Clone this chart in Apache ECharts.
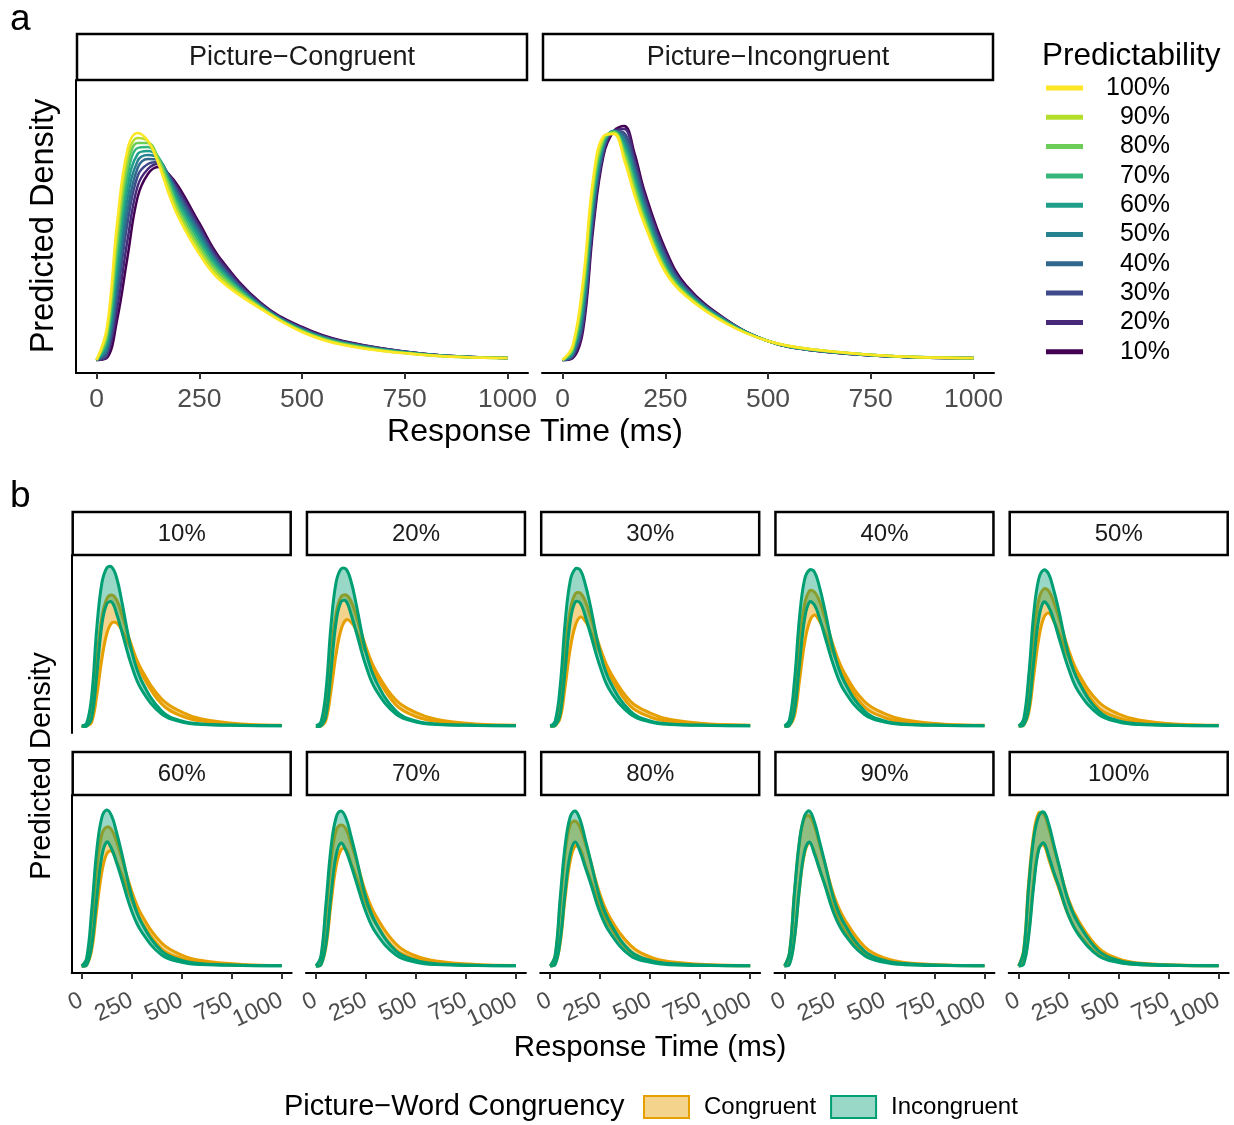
<!DOCTYPE html>
<html><head><meta charset="utf-8">
<script src="https://cdn.jsdelivr.net/npm/echarts@6/dist/echarts.min.js"></script>
<style>html,body{margin:0;padding:0;background:#fff}#c{width:1234px;height:1125px}</style>
</head><body><div id="c"></div>
<script>
// ---------------- DATA ----------------
const levels = ['10%','20%','30%','40%','50%','60%','70%','80%','90%','100%'];
const xs = [0,25,50,75,100,125,150,175,200,250,300,400,500,600,800,1000];
const xTicks = [0,250,500,750,1000];
const xTicksEven = [0,500,1000];
const xTicksOdd = [250,750];
const facetTitles = ['Picture\u2212Congruent','Picture\u2212Incongruent'];

// Panel a: predicted density (arbitrary units), rows = 10% .. 100%
const aCongruent = [
  [0,2,40,102,163,186,193,186,173,137,102,57,33,19,6,2],
  [0,4,51,119,174,191,196,186,170,134,100,56,32,18.5,6,2],
  [0,6,63,136,184,196,198,185,167,131,97,55,31.5,18,6,2],
  [0,9,73,148,192,201,200,184,164,128,95,55,31,17.5,6,2],
  [0,12,83,160,199,205,202,183,161,125,93,54,30.5,17,5.5,2],
  [0,16,93,172,206,209,203,181,158,122,91,53,30,17,5.5,2],
  [0,20,104,183,212,213,203,179,154,118,89,53,29.5,16.5,5.5,2],
  [0,24,115,193,217,217,202,176,150,114,86,52,29,16,5,2],
  [0,28,126,202,222,219,200,172,146,110,83,52,28.5,15.5,5,2],
  [0,32,137,210,227,219,197,167,142,106,80,51,28,15,5,2]
];
const aIncongruent = [
  [0,2,30,133,205,229,234,207,168,111,75,40,19,10,3.5,2],
  [0,3,35,139,208,229,231,202,164,108,73,39.5,19,10,3.5,2],
  [0,4,40,145,210,229,227,197,160,105,72,39,19,10,3.5,2],
  [0,5,45,150,213,229,224,192,156,102,71,39,19,10.5,3.5,2],
  [0,7,50,156,215,229,220,187,152,99,69,38.5,19,10.5,3.5,2],
  [0,8,56,161,217,229,216,183,148,96,68,38,19,10.5,4,2],
  [0,10,62,166,219,228,212,178,145,94,67,37.5,19,10.5,4,2],
  [0,11,68,172,221,228,208,174,141,92,66,37,19,11,4,2],
  [0,13,74,178,223,227,204,169,138,90,65,36.5,19,11,4,2],
  [0,15,80,183,224,226,200,165,135,88,64,36,19,11,4,2]
];

// Panel b: credible bands, rows = 10% .. 100%
const bIncUpper = [
  [0,3,30,97,142,158,159,148,125,75,45,15,5,2,0.7,0.3],
  [0,4,35,100,143,157,157,145,123,74,45,15,5,2,0.7,0.3],
  [0,5,40,104,145,157,156,142,121,73,44,15,5,2,0.7,0.3],
  [0,6,45,108,146,156,154,139,118,72,44,15,5,2.1,0.7,0.3],
  [0,7,50,112,147,156,152,136,116,71,44,15,5,2.2,0.7,0.3],
  [0,8,56,115,148,156,150,133,113,70,43,15,5.5,2.3,0.8,0.3],
  [0,10,62,118,148,155,148,130,110,68,43,15,5.5,2.3,0.8,0.3],
  [0,11,68,121,149,155,146,127,107,67,43,15,5.5,2.4,0.8,0.3],
  [0,13,74,125,150,155,144,125,105,65,42,15,5.5,2.5,0.8,0.3],
  [0,15,80,128,150,154,142,122,102,64,42,15,5.5,2.5,0.8,0.3]
];
const bIncLower = [
  [0,0,8,50,100,122,124,112,95,60,36,12,4,1.5,0.5,0.2],
  [0,0,10,54,103,124,125,112,95,60,36,12,4,1.5,0.5,0.2],
  [0,0.5,12,57,104,124,123,110,93,59,35,12,4,1.5,0.5,0.2],
  [0,0.5,15,61,106,124,121,108,91,58,35,11.5,4,1.5,0.5,0.2],
  [0,1,17,64,107,124,119,106,89,57,34,11.5,4,1.4,0.5,0.2],
  [0,1,20,67,109,124,117,103,87,55,34,11,3.8,1.4,0.5,0.2],
  [0,1,22,70,110,123,115,101,85,54,33,11,3.8,1.4,0.4,0.2],
  [0,1.5,25,74,112,124,114,99,84,53,33,10.5,3.7,1.3,0.4,0.2],
  [0,1.5,27,77,114,124,112,97,82,51,32,10.5,3.6,1.3,0.4,0.2],
  [0,2,30,80,116,123,110,94,80,50,31,10,3.5,1.3,0.4,0.2]
];
const bCongUpper = [
  [0,1,18,65,108,127,131,126,112,80,56,27,14,7,2,0.8],
  [0,2,22,71,112,129,131,125,111,79,55,26,13.5,6.8,2,0.8],
  [0,3,27,77,116,132,133,125,110,78,54,25,13,6.5,1.9,0.8],
  [0,4,33,84,121,135,134,125,110,77,53,24.5,12.5,6.2,1.8,0.7],
  [0,5,39,91,126,137,135,124,109,76,52,24,12,6,1.7,0.7],
  [0,7,46,98,131,139,136,124,108,75,51,23,11,5.5,1.6,0.6],
  [0,8,53,105,135,141,137,123,107,73,50,22,10,5,1.5,0.6],
  [0,10,62,114,141,145,138,123,106,71,48,21,9,4.3,1.3,0.5],
  [0,13,73,124,148,150,140,122,104,69,47,19.5,8,3.6,1.1,0.5],
  [0,16,84,132,153,152,138,119,101,66,45,18,7,3,1,0.4]
];
const bCongLower = [
  [0,0,4,30,66,92,103,103,96,75,52,22,10,5,1.6,0.6],
  [0,0,6,35,71,96,106,104,96,73,51,21,9.5,4.7,1.5,0.6],
  [0,0.5,8,40,77,100,109,105,96,72,50,20,9,4.4,1.4,0.5],
  [0,0.5,10,45,82,104,111,105,95,70,48,19,8.5,4.1,1.3,0.5],
  [0,1,13,50,87,108,113,105,94,68,46,18,8,3.8,1.2,0.5],
  [0,1,16,56,93,112,115,104,92,66,44,17,7.5,3.5,1.1,0.4],
  [0,1.5,19,62,99,116,117,103,90,63,42,16,7,3.1,1,0.4],
  [0,2,23,69,105,120,117,101,87,60,39,14,6,2.7,0.8,0.3],
  [0,2.5,28,77,112,123,114,97,83,56,36,12.5,5,2.2,0.7,0.3],
  [0,3,33,84,118,121,107,92,78,50,32,11,4,1.6,0.5,0.2]
];

// ---------------- STYLE ----------------
const FONT = '"Liberation Sans", Arial, Helvetica, sans-serif';
const viridis = ['#440154','#482878','#3E4A89','#31688E','#26828E','#1F9E89','#35B779','#6DCD59','#B4DE2C','#FDE725'];
const ORANGE = '#E69F00', GREEN = '#009E73';
const ORANGE_FILL = 'rgba(230,159,0,0.45)', GREEN_FILL = 'rgba(0,158,115,0.4)';
const TICK_COL = '#4D4D4D';
const SMOOTH = 0.4;

function pts(v){ return xs.map((x,j)=>[x, v[j]]); }

function bandRender(lower, upper, color, fill) {
  return function (params, api) {
    if (params.dataIndex !== 0) return;
    const up = xs.map((x,j)=>api.coord([x, upper[j]]));
    const lo = xs.map((x,j)=>api.coord([x, lower[j]]));
    const poly = up.concat(lo.slice().reverse());
    return {type:'group', children:[
      {type:'polygon', shape:{points:poly, smooth:SMOOTH}, style:{fill:fill, stroke:null}},
      {type:'polyline', shape:{points:lo, smooth:SMOOTH}, style:{stroke:color, lineWidth:3, fill:null}},
      {type:'polyline', shape:{points:up, smooth:SMOOTH}, style:{stroke:color, lineWidth:3, fill:null}}
    ]};
  };
}

const grids = [], xAxes = [], yAxes = [], series = [], graphics = [];
const fmt = v => String(v);

// Panel a grids
const aLefts = [76, 542];
aLefts.forEach((L, g) => {
  grids.push({left: L, top: 80, width: 452, height: 293});
  xAxes.push({type:'value', gridIndex:g, min:-50, max:1050, splitLine:{show:false},
    axisLine:{show:true, onZero:false, lineStyle:{color:'#000', width:2}},
    axisTick:{show:true, customValues:xTicks, length:6, lineStyle:{color:'#333', width:2}},
    axisLabel:{show:true, customValues:xTicks, formatter:fmt, color:TICK_COL, fontSize:26.5, fontFamily:FONT, margin:13, hideOverlap:false}});
  yAxes.push({type:'value', gridIndex:g, min:-13, max:280, splitLine:{show:false},
    axisLine:{show:g===0, onZero:false, lineStyle:{color:'#000', width:2}}, axisTick:{show:false}, axisLabel:{show:false}});
  graphics.push({type:'rect', shape:{x:L+1, y:34, width:450, height:46}, style:{fill:'#fff', stroke:'#000', lineWidth:2.5}});
  graphics.push({type:'text', x:L+226, y:58, style:{text:facetTitles[g], font:'27px '+FONT, fill:'#1A1A1A', textAlign:'center', textVerticalAlign:'middle'}});
});

// Panel b grids
const bLeft0 = 71.7, bStep = 234.25;
const extraAxes = [];
function bAxisLabel(vals) {
  return {show:true, customValues:vals, formatter:fmt, rotate:25, color:TICK_COL, fontSize:23.5, fontFamily:FONT, margin:26,
          hideOverlap:false, showMaxLabel:true, showMinLabel:true};
}
for (let i = 0; i < 10; i++) {
  const row = i < 5 ? 0 : 1, col = i % 5;
  const L = bLeft0 + bStep*col, T = row ? 795 : 555;
  const g = 2 + i;
  grids.push({left: L, top: T, width: 220, height: 178});
  if (row === 1) {
    xAxes.push({type:'value', gridIndex:g, min:-50, max:1050, position:'bottom', splitLine:{show:false},
      axisLine:{show:true, onZero:false, lineStyle:{color:'#000', width:2}},
      axisTick:{show:true, customValues:xTicksEven, length:6, lineStyle:{color:'#333', width:2}},
      axisLabel:bAxisLabel(xTicksEven)});
    extraAxes.push({type:'value', gridIndex:g, min:-50, max:1050, position:'bottom', offset:0, splitLine:{show:false},
      axisLine:{show:false, onZero:false},
      axisTick:{show:true, customValues:xTicksOdd, length:6, lineStyle:{color:'#333', width:2}},
      axisLabel:bAxisLabel(xTicksOdd)});
  } else {
    xAxes.push({type:'value', gridIndex:g, min:-50, max:1050, show:false, splitLine:{show:false},
      axisLine:{show:false, onZero:false}, axisTick:{show:false}, axisLabel:{show:false}});
  }
  yAxes.push({type:'value', gridIndex:g, min:-7, max:171, splitLine:{show:false},
    axisLine:{show:col===0, onZero:false, lineStyle:{color:'#000', width:2}}, axisTick:{show:false}, axisLabel:{show:false}});
  const sy = row ? 752 : 512;
  graphics.push({type:'rect', shape:{x:L+1, y:sy, width:218, height:43}, style:{fill:'#fff', stroke:'#000', lineWidth:2.5}});
  graphics.push({type:'text', x:L+110, y:sy+22, style:{text:levels[i], font:'24px '+FONT, fill:'#1A1A1A', textAlign:'center', textVerticalAlign:'middle'}});

  series.push({type:'custom', name:'Congruent', xAxisIndex:g, yAxisIndex:g, silent:true,
    encode:{x:0, y:[1,2]}, data:xs.map((x,j)=>[x, bCongLower[i][j], bCongUpper[i][j]]),
    renderItem:bandRender(bCongLower[i], bCongUpper[i], ORANGE, ORANGE_FILL)});
  series.push({type:'custom', name:'Incongruent', xAxisIndex:g, yAxisIndex:g, silent:true,
    encode:{x:0, y:[1,2]}, data:xs.map((x,j)=>[x, bIncLower[i][j], bIncUpper[i][j]]),
    renderItem:bandRender(bIncLower[i], bIncUpper[i], GREEN, GREEN_FILL)});
}
extraAxes.forEach(a => xAxes.push(a));

// Panel a series
levels.forEach((lv, k) => {
  series.push({type:'line', name:lv, xAxisIndex:0, yAxisIndex:0, data:pts(aCongruent[k]), smooth:SMOOTH, symbol:'none', silent:true, color:viridis[k], lineStyle:{color:viridis[k], width:2.5}});
  series.push({type:'line', name:lv, xAxisIndex:1, yAxisIndex:1, data:pts(aIncongruent[k]), smooth:SMOOTH, symbol:'none', silent:true, color:viridis[k], lineStyle:{color:viridis[k], width:2.5}});
});

// Titles / labels
graphics.push({type:'text', x:10, y:20, style:{text:'a', font:'37px '+FONT, fill:'#000', textVerticalAlign:'middle'}});
graphics.push({type:'text', x:10, y:497, style:{text:'b', font:'37px '+FONT, fill:'#000', textVerticalAlign:'middle'}});
graphics.push({type:'text', x:535, y:432, style:{text:'Response Time (ms)', font:'32px '+FONT, fill:'#000', textAlign:'center', textVerticalAlign:'middle'}});
graphics.push({type:'text', x:44, y:226, rotation:Math.PI/2, style:{text:'Predicted Density', font:'32.5px '+FONT, fill:'#000', textAlign:'center', textVerticalAlign:'middle'}});
graphics.push({type:'text', x:650, y:1048, style:{text:'Response Time (ms)', font:'29.5px '+FONT, fill:'#000', textAlign:'center', textVerticalAlign:'middle'}});
graphics.push({type:'text', x:42, y:766, rotation:Math.PI/2, style:{text:'Predicted Density', font:'29px '+FONT, fill:'#000', textAlign:'center', textVerticalAlign:'middle'}});
graphics.push({type:'text', x:1042, y:56, style:{text:'Predictability', font:'31.5px '+FONT, fill:'#000', textVerticalAlign:'middle'}});
graphics.push({type:'text', x:284, y:1107, style:{text:'Picture\u2212Word Congruency', font:'29px '+FONT, fill:'#000', textVerticalAlign:'middle'}});

const option = {
  animation:false,
  backgroundColor:'#fff',
  grid:grids, xAxis:xAxes, yAxis:yAxes, series:series,
  legend:[
    {data:levels.slice().reverse(), orient:'vertical', left:1046, top:75.5, padding:0, itemGap:4.3,
     itemWidth:37, itemHeight:5, icon:'rect', selectedMode:false,
     formatter:'{r|{name}}',
     textStyle:{fontFamily:FONT, fontSize:25, color:'#000', rich:{r:{width:82, align:'right', fontSize:25, fontFamily:FONT, color:'#000'}}}},
    {data:[{name:'Congruent', icon:'rect', itemStyle:{color:ORANGE_FILL, borderColor:ORANGE, borderWidth:2}},
           {name:'Incongruent', icon:'rect', itemStyle:{color:GREEN_FILL, borderColor:GREEN, borderWidth:2}}],
     orient:'horizontal', left:643, top:1095, padding:0, itemGap:14, itemWidth:45, itemHeight:22, selectedMode:false,
     textStyle:{fontFamily:FONT, fontSize:24, color:'#000', padding:[0,0,0,10]}}
  ],
  graphic:graphics
};
const chart = echarts.init(document.getElementById('c'), null, {renderer:'canvas', width:1234, height:1125});
chart.setOption(option);
</script></body></html>
